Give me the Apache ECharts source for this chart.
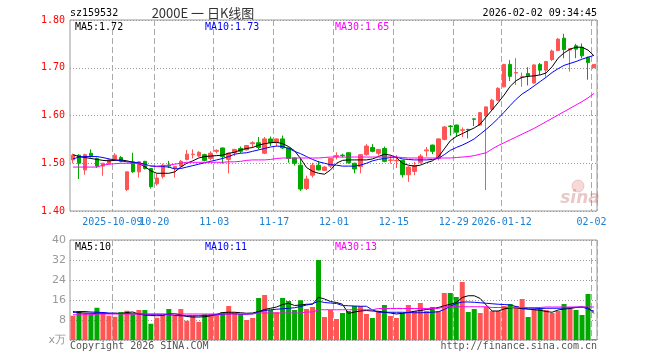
<!DOCTYPE html>
<html><head><meta charset="utf-8">
<script src="https://cdn.jsdelivr.net/npm/echarts@6/dist/echarts.min.js"></script>
<style>html,body{margin:0;padding:0;background:#fff}#c{width:660px;height:360px}</style>
</head><body><div id="c"></div>
<script>
const dates = [
'2025-09-22','2025-09-23','2025-09-24','2025-09-25','2025-09-26','2025-09-29','2025-09-30',
'2025-10-09','2025-10-10','2025-10-13','2025-10-14','2025-10-15','2025-10-16','2025-10-17','2025-10-20','2025-10-21','2025-10-22','2025-10-23','2025-10-24','2025-10-27','2025-10-28','2025-10-29','2025-10-30','2025-10-31',
'2025-11-03','2025-11-04','2025-11-05','2025-11-06','2025-11-07','2025-11-10','2025-11-11','2025-11-12','2025-11-13','2025-11-14','2025-11-17','2025-11-18','2025-11-19','2025-11-20','2025-11-21','2025-11-24','2025-11-25','2025-11-26','2025-11-27','2025-11-28',
'2025-12-01','2025-12-02','2025-12-03','2025-12-04','2025-12-05','2025-12-08','2025-12-09','2025-12-10','2025-12-11','2025-12-12','2025-12-15','2025-12-16','2025-12-17','2025-12-18','2025-12-19','2025-12-22','2025-12-23','2025-12-24','2025-12-25','2025-12-26','2025-12-29','2025-12-30','2025-12-31',
'2026-01-05','2026-01-06','2026-01-07','2026-01-08','2026-01-09','2026-01-12','2026-01-13','2026-01-14','2026-01-15','2026-01-16','2026-01-19','2026-01-20','2026-01-21','2026-01-22','2026-01-23','2026-01-26','2026-01-27','2026-01-28','2026-01-29','2026-01-30',
'2026-02-02'];

const tickDates  = ['2025-10-09','2025-10-20','2025-11-03','2025-11-17','2025-12-01','2025-12-15','2025-12-29','2026-01-12','2026-02-02'];
const tickLabels = ['2025-10-09','10-20','11-03','11-17','12-01','12-15','12-29','2026-01-12','02-02'];

const open = [
1.507,1.517,1.486,1.521,1.510,1.494,1.499,1.508,1.512,1.445,
1.503,1.482,1.504,1.489,1.457,1.472,1.496,1.489,1.494,1.508,
1.518,1.515,1.518,1.510,1.525,1.532,1.508,1.522,1.531,1.528,
1.541,1.543,1.521,1.551,1.543,1.551,1.532,1.511,1.496,1.447,
1.475,1.496,1.485,1.494,1.514,1.517,1.522,1.500,1.493,1.518,
1.533,1.521,1.531,1.506,1.505,1.506,1.476,1.483,1.502,1.526,
1.538,1.510,1.550,1.578,1.580,1.569,1.571,1.593,1.580,1.599,
1.613,1.632,1.660,1.707,1.689,1.680,1.688,1.668,1.707,1.695,
1.717,1.736,1.762,1.737,1.746,1.743,1.722,1.700];
const close = [
1.517,1.500,1.518,1.514,1.494,1.500,1.507,1.517,1.504,1.482,
1.482,1.503,1.489,1.451,1.469,1.496,1.494,1.493,1.504,1.519,
1.519,1.523,1.506,1.521,1.527,1.514,1.521,1.529,1.525,1.537,
1.543,1.533,1.551,1.543,1.551,1.532,1.510,1.500,1.446,1.467,
1.496,1.486,1.492,1.510,1.516,1.516,1.501,1.488,1.518,1.536,
1.525,1.529,1.504,1.507,1.506,1.476,1.492,1.495,1.515,1.528,
1.525,1.551,1.576,1.577,1.565,1.570,1.570,1.592,1.606,1.618,
1.632,1.657,1.707,1.682,1.690,1.681,1.683,1.706,1.695,1.713,
1.735,1.760,1.738,1.740,1.739,1.725,1.711,1.707];
const low = [
1.500,1.467,1.476,1.512,1.490,1.474,1.498,1.506,1.502,1.442,
1.480,1.470,1.487,1.447,1.453,1.468,1.490,1.470,1.493,1.506,
1.510,1.513,1.504,1.506,1.521,1.499,1.479,1.515,1.521,1.527,
1.532,1.529,1.519,1.536,1.535,1.530,1.501,1.495,1.442,1.444,
1.470,1.485,1.484,1.490,1.508,1.512,1.499,1.479,1.479,1.516,
1.523,1.516,1.502,1.499,1.490,1.470,1.461,1.475,1.499,1.514,
1.519,1.506,1.548,1.558,1.556,1.555,1.552,1.578,1.578,1.444,
1.611,1.630,1.659,1.672,1.664,1.660,1.663,1.667,1.685,1.681,
1.714,1.735,1.720,1.692,1.720,1.720,1.675,1.700];
const high = [
1.520,1.519,1.520,1.529,1.512,1.500,1.510,1.521,1.515,1.482,
1.522,1.504,1.505,1.490,1.478,1.499,1.505,1.494,1.507,1.528,
1.529,1.525,1.520,1.525,1.529,1.533,1.522,1.530,1.535,1.538,
1.546,1.555,1.555,1.556,1.552,1.558,1.533,1.512,1.512,1.474,
1.501,1.505,1.494,1.511,1.523,1.520,1.523,1.501,1.519,1.540,
1.540,1.530,1.535,1.516,1.517,1.507,1.494,1.503,1.519,1.534,
1.539,1.552,1.578,1.580,1.581,1.575,1.572,1.593,1.607,1.619,
1.635,1.659,1.708,1.716,1.720,1.690,1.701,1.707,1.710,1.714,
1.738,1.762,1.771,1.741,1.750,1.751,1.723,1.707];

const ma5 = [
1.518,1.514,1.512,1.510,1.508,1.506,1.505,1.506,1.507,1.505,
1.502,1.499,1.493,1.484,1.479,1.479,1.479,1.482,1.492,1.500,
1.505,1.511,1.514,1.515,1.516,1.517,1.521,1.523,1.528,1.531,
1.533,1.538,1.541,1.543,1.544,1.541,1.535,1.526,1.510,1.491,
1.483,1.479,1.477,1.486,1.500,1.506,1.507,1.507,1.507,1.507,
1.509,1.514,1.519,1.517,1.512,1.500,1.496,1.494,1.496,1.501,
1.505,1.513,1.530,1.547,1.556,1.562,1.568,1.574,1.582,1.597,
1.612,1.627,1.643,1.661,1.673,1.680,1.682,1.683,1.685,1.689,
1.702,1.720,1.731,1.739,1.743,1.743,1.737,1.725];
const ma10 = [
1.509,1.513,1.514,1.514,1.514,1.512,1.509,1.507,1.505,1.503,
1.502,1.501,1.498,1.494,1.493,1.493,1.492,1.488,1.489,1.492,
1.495,1.498,1.501,1.504,1.507,1.510,1.514,1.519,1.521,1.522,
1.525,1.528,1.531,1.534,1.536,1.535,1.531,1.525,1.520,1.514,
1.508,1.503,1.500,1.497,1.496,1.494,1.494,1.494,1.496,1.500,
1.505,1.508,1.510,1.512,1.513,1.509,1.508,1.507,1.507,1.507,
1.508,1.510,1.518,1.527,1.533,1.538,1.544,1.551,1.561,1.571,
1.582,1.594,1.607,1.621,1.634,1.645,1.653,1.662,1.671,1.680,
1.690,1.698,1.705,1.709,1.713,1.718,1.722,1.726];
const ma30 = [
1.492,1.492,1.492,1.492,1.492,1.496,1.498,1.499,1.500,1.500,
1.500,1.499,1.495,1.495,1.494,1.495,1.496,1.498,1.500,1.502,
1.502,1.502,1.502,1.502,1.502,1.502,1.503,1.503,1.504,1.506,
1.507,1.507,1.507,1.508,1.510,1.511,1.511,1.511,1.511,1.511,
1.511,1.511,1.512,1.513,1.513,1.513,1.513,1.513,1.513,1.513,
1.513,1.513,1.513,1.513,1.513,1.512,1.511,1.511,1.511,1.511,
1.511,1.511,1.511,1.511,1.512,1.513,1.514,1.516,1.519,1.522,
1.530,1.537,1.543,1.549,1.555,1.561,1.567,1.573,1.580,1.587,
1.594,1.601,1.608,1.615,1.622,1.629,1.637,1.646];

const volume = [
9.7,11.6,10.7,10.3,12.9,11.1,9.7,9.3,11.2,11.7,
10.3,12.0,12.0,6.5,8.9,10.0,12.4,9.7,12.4,7.7,
9.7,7.3,10.3,10.3,10.0,11.1,13.6,11.1,10.3,8.0,
8.8,16.8,18.0,12.0,11.1,16.8,15.6,12.0,15.9,12.4,
13.2,32.0,9.2,12.0,8.4,10.8,11.6,13.6,13.6,10.4,
8.8,11.6,14.0,9.6,8.8,10.8,14.0,11.6,14.8,11.6,
13.2,11.6,18.8,18.8,17.2,23.2,11.2,12.4,10.8,13.2,
11.6,11.6,13.6,14.4,13.6,16.4,9.2,12.4,12.4,12.0,
10.8,11.6,14.4,12.4,12.0,10.0,18.4,0.4];
const volMa5 = [
11.4,10.9,10.8,10.7,10.7,10.7,10.6,10.7,10.6,11.0,
11.2,10.3,10.0,9.8,9.7,9.8,10.5,10.5,10.0,9.4,
9.2,9.2,9.3,9.7,10.3,11.0,11.1,11.1,10.9,10.7,
10.8,11.4,12.2,12.7,13.2,14.2,14.7,13.8,14.0,14.3,
14.3,17.1,16.4,15.4,15.0,14.3,10.6,11.2,11.6,11.8,
11.6,11.5,11.1,10.8,10.4,10.7,11.0,11.5,11.8,12.2,
12.5,13.0,13.7,14.3,15.0,17.0,17.7,17.7,16.6,14.0,
11.6,11.6,12.4,12.9,12.9,12.5,12.4,12.1,11.9,11.4,
11.1,12.0,12.4,12.6,13.0,13.2,13.0,10.6];
const volMa10 = [
11.0,11.4,11.4,11.2,11.1,11.0,10.8,10.7,10.6,10.6,
10.5,10.5,10.3,10.3,10.3,10.3,10.2,9.8,9.7,9.7,
9.7,9.7,9.8,10.0,10.1,10.3,10.5,10.5,10.3,10.3,
10.5,11.2,11.8,12.1,12.3,12.5,12.7,12.9,13.4,14.0,
14.5,15.5,15.0,14.8,14.6,13.8,13.7,13.6,13.5,13.5,
12.0,11.1,11.1,11.1,11.1,11.1,11.0,10.9,10.9,11.0,
11.1,11.3,12.2,13.5,14.6,15.2,15.2,15.1,14.9,14.7,
14.5,14.3,14.2,14.0,13.4,12.8,12.4,12.5,12.6,12.7,
12.7,12.7,12.8,12.9,13.1,13.2,12.4,11.5];
const volMa30 = [
10.1,10.1,10.1,10.1,10.4,10.4,10.4,10.4,10.4,10.4,
10.4,10.4,10.4,10.4,10.4,10.4,10.4,10.4,10.4,10.4,
10.4,10.4,10.4,10.4,10.4,10.4,10.4,10.4,10.4,10.4,
10.4,10.8,10.8,10.8,10.8,10.8,10.8,10.8,10.8,11.2,
11.2,12.1,12.1,12.1,12.1,12.1,12.1,12.1,12.1,12.1,
12.1,12.6,12.6,12.6,12.6,12.6,12.6,12.6,12.6,12.6,
12.6,12.6,13.3,13.3,13.3,13.3,13.3,13.3,13.3,13.3,
13.0,13.0,13.0,13.0,13.0,13.0,13.0,13.0,13.0,13.2,
13.2,13.2,13.2,13.2,13.2,13.2,13.2,13.2];

const priceMaLabels = ['MA5:1.72','MA10:1.73','MA30:1.65'];
const volMaLabels = ['MA5:10','MA10:11','MA30:13'];
const priceTicks = [1.40, 1.50, 1.60, 1.70, 1.80];
const volTicks = [0, 8, 16, 24, 32, 40];

const UP = '#ff5555', DOWN = '#00a800';
const MONO = '"DejaVu Sans Mono", "Liberation Mono", monospace';
const isTick = (idx, val) => tickDates.indexOf(val) >= 0;
// two label rows on the same baseline so neighbouring labels never get hidden
const isTickEven = (idx, val) => { const k = tickDates.indexOf(val); return k >= 0 && k % 2 === 0; };
const isTickOdd  = (idx, val) => { const k = tickDates.indexOf(val); return k >= 0 && k % 2 === 1; };
const fmtTick = (val) => { const k = tickDates.indexOf(val); return k >= 0 ? tickLabels[k] : ''; };

const chart = echarts.init(document.getElementById('c'), null, {renderer: 'canvas'});

const vSplit = {show: true, interval: isTick, lineStyle: {color: '#aaa', width: 1, type: [6, 3]}};
const hSplit = {show: true, lineStyle: {color: '#999', width: 1, type: [1, 2]}};
const lblBase = {show: true, formatter: fmtTick, color: '#1a7fd4', fontFamily: MONO, fontSize: 10,
  margin: 6, padding: [0, 5, 0, 0], hideOverlap: false};

function txt(x, y, text, color, align, font) {
  return {type: 'text', x: x, y: y, z: 100, silent: true,
    style: {text: text, fill: color, font: font || ('10px ' + MONO), textAlign: align || 'left', textVerticalAlign: 'middle'}};
}

const option = {
  animation: false,
  backgroundColor: '#fff',
  grid: [
    {left: 70, top: 20, width: 527, height: 191, show: true, borderColor: '#999', borderWidth: 1, outerBoundsMode: 'none'},
    {left: 70, top: 240, width: 527, height: 100, show: true, borderColor: '#999', borderWidth: 1, outerBoundsMode: 'none'}
  ],
  xAxis: [
    {type: 'category', gridIndex: 0, data: dates, boundaryGap: true, position: 'bottom',
     axisLine: {show: false}, axisTick: {show: false},
     axisLabel: Object.assign({interval: isTickEven}, lblBase),
     splitLine: vSplit},
    {type: 'category', gridIndex: 1, data: dates, boundaryGap: true,
     axisLine: {show: false}, axisTick: {show: false}, axisLabel: {show: false},
     splitLine: vSplit},
    {type: 'category', gridIndex: 0, data: dates, boundaryGap: true, position: 'bottom', offset: 0,
     axisLine: {show: false}, axisTick: {show: false},
     axisLabel: Object.assign({interval: isTickOdd}, lblBase),
     splitLine: {show: false}}
  ],
  yAxis: [
    {type: 'value', gridIndex: 0, min: priceTicks[0], max: priceTicks[priceTicks.length - 1], interval: 0.1,
     axisLine: {show: false}, axisTick: {show: false},
     axisLabel: {color: '#ff0000', fontFamily: MONO, fontSize: 10, margin: 5, formatter: v => v.toFixed(2)},
     splitLine: hSplit},
    {type: 'value', gridIndex: 1, min: volTicks[0], max: volTicks[volTicks.length - 1], interval: 8,
     axisLine: {show: false}, axisTick: {show: false},
     axisLabel: {color: '#999', fontFamily: '"DejaVu Sans", sans-serif', fontSize: 11, margin: 4,
       formatter: v => v === 0 ? 'x万' : String(v)},
     splitLine: hSplit}
  ],
  series: [
    {type: 'candlestick', xAxisIndex: 0, yAxisIndex: 0, barWidth: 4, z: 2,
     data: dates.map((d, i) => [open[i], close[i], low[i], high[i]]),
     itemStyle: {color: UP, color0: DOWN, borderColor: UP, borderColor0: DOWN, borderWidth: 1}},
    {type: 'line', xAxisIndex: 0, yAxisIndex: 0, data: ma5, symbol: 'none', z: 3, lineStyle: {width: 1, color: '#000'}, itemStyle: {color: '#000'}},
    {type: 'line', xAxisIndex: 0, yAxisIndex: 0, data: ma10, symbol: 'none', z: 3, lineStyle: {width: 1, color: '#0000ff'}, itemStyle: {color: '#0000ff'}},
    {type: 'line', xAxisIndex: 0, yAxisIndex: 0, data: ma30, symbol: 'none', z: 3, lineStyle: {width: 1, color: '#ff00ff'}, itemStyle: {color: '#ff00ff'}},
    {type: 'bar', xAxisIndex: 1, yAxisIndex: 1, barWidth: 5, z: 2,
     data: volume.map((v, i) => ({value: v, itemStyle: {color: close[i] >= open[i] ? UP : DOWN}}))},
    {type: 'line', xAxisIndex: 1, yAxisIndex: 1, data: volMa5, symbol: 'none', z: 3, lineStyle: {width: 1, color: '#000'}, itemStyle: {color: '#000'}},
    {type: 'line', xAxisIndex: 1, yAxisIndex: 1, data: volMa10, symbol: 'none', z: 3, lineStyle: {width: 1, color: '#0000ff'}, itemStyle: {color: '#0000ff'}},
    {type: 'line', xAxisIndex: 1, yAxisIndex: 1, data: volMa30, symbol: 'none', z: 3, lineStyle: {width: 1, color: '#ff00ff'}, itemStyle: {color: '#ff00ff'}}
  ],
  graphic: [
    txt(70, 13, 'sz159532', '#000'),
    txt(203, 13, '2000E 一 日K线图', '#333', 'center', '13px "Noto Sans CJK SC", sans-serif'),
    txt(597, 13, '2026-02-02 09:34:45', '#000', 'right'),
    txt(75, 27, priceMaLabels[0], '#000'),
    txt(205, 27, priceMaLabels[1], '#0000ff'),
    txt(335, 27, priceMaLabels[2], '#ff00ff'),
    txt(75, 247, volMaLabels[0], '#000'),
    txt(205, 247, volMaLabels[1], '#0000ff'),
    txt(335, 247, volMaLabels[2], '#ff00ff'),
    txt(70, 346, 'Copyright 2026 SINA.COM', '#555'),
    txt(597, 346, 'http://finance.sina.com.cn', '#555', 'right'),
    {type: 'circle', z: 1, silent: true, shape: {cx: 578, cy: 186, r: 6},
     style: {fill: 'rgba(230,150,150,0.35)', stroke: 'rgba(220,120,120,0.35)', lineWidth: 1}},
    txt(580, 199, 'sina', 'rgba(200,110,110,0.38)', 'center', 'italic bold 17px "DejaVu Sans", sans-serif')
  ]
};
chart.setOption(option);
</script></body></html>
